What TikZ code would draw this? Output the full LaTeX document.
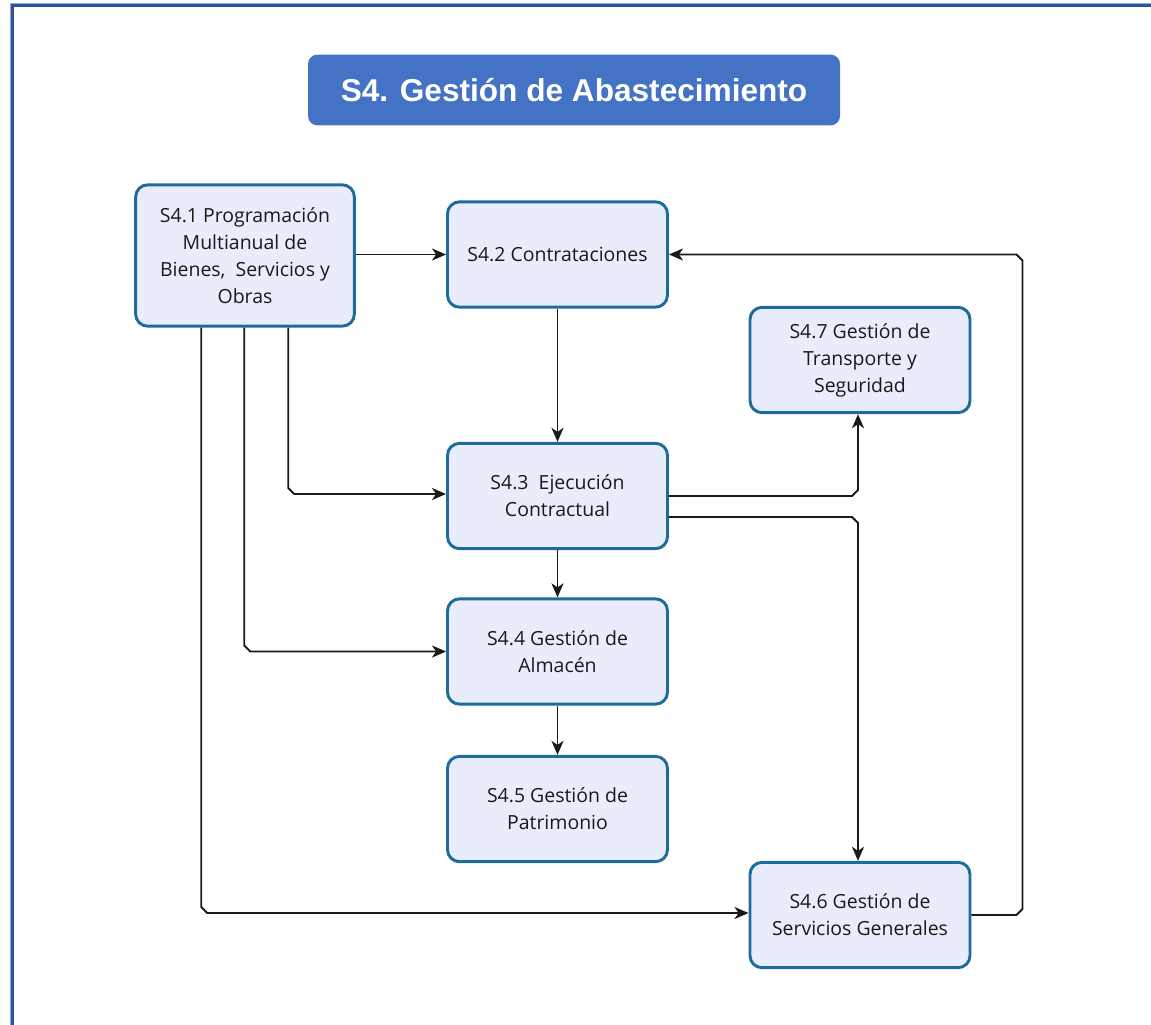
\documentclass[tikz,border=0pt]{standalone}
\usepackage{fontspec}
\setmainfont{Open Sans}
\newfontfamily\titlefont{Liberation Sans}
\usetikzlibrary{calc,arrows.meta}
\definecolor{boxfill}{HTML}{E9EDFB}
\definecolor{boxline}{HTML}{1D6C9B}
\definecolor{titlefill}{HTML}{4472C4}
\definecolor{frameblue}{HTML}{2F5597}
\definecolor{framelight}{HTML}{8FAADC}
\definecolor{linecol}{HTML}{1A1A1A}
\begin{document}
\begin{tikzpicture}[x=0.75pt,y=-0.75pt,
  procbox/.style={draw=boxline,line width=2.2pt,fill=boxfill,rounded corners=9pt,
    minimum width=165pt,minimum height=79pt,align=center,inner sep=2pt,
    font=\fontsize{14.6}{20.3}\selectfont,text=black!90},
  titlebox/.style={fill=titlefill,rounded corners=7pt,minimum width=399pt,minimum height=53pt,
    text=white,font=\titlefont\bfseries\fontsize{23.7}{26}\selectfont},
  arr/.style={draw=linecol,line width=1.4pt,-{Stealth[length=10.5pt,width=9pt,inset=3pt]}}
]
\useasboundingbox (0,0) rectangle (1151,1024);
\clip (0,0) rectangle (1151,1024);
% frame
\draw[framelight,line width=3.6pt] (12,1040) -- (12,5) -- (1170,5);
\draw[frameblue,line width=2pt] (12.5,1040) -- (12.5,5.5) -- (1170,5.5);

\node[titlebox] (title) at (574,90) {S4. Gestión de Abastecimiento};

\node[procbox,minimum width=164pt,minimum height=106pt] (n1) at (245,255.5)
  {S4.1 Programación\\Multianual de\\Bienes,\ \ Servicios y\\Obras};
\node[procbox] (n2) at (557.5,254.5) {S4.2 Contrataciones};
\node[procbox] (n7) at (860,360) {S4.7 Gestión de\\Transporte y\\Seguridad};
\node[procbox] (n3) at (557.5,496) {S4.3\ \ Ejecución\\Contractual};
\node[procbox] (n4) at (557.5,651.5) {S4.4 Gestión de\\Almacén};
\node[procbox] (n5) at (557.5,809) {S4.5 Gestión de\\Patrimonio};
\node[procbox] (n6) at (860,915) {S4.6 Gestión de\\Servicios Generales};

% straight connectors
\draw[arr] (n1.east|-n2.west) -- (n2.west);
\draw[arr] (n2.south) -- (n3.north);
\draw[arr] (n3.south) -- (n4.north);
\draw[arr] (n4.south) -- (n5.north);

% from S4.1 down and right
\coordinate (a1) at ($(n1.south west)+(154,0)$);
\coordinate (a2) at ($(n1.south west)+(110,0)$);
\coordinate (a3) at ($(n1.south west)+(67,0)$);
\coordinate (t3) at ($(n3.west)+(0,-2)$);
\draw[arr] (a1) -- ($(a1|-t3)+(0,-6)$) -- ($(a1|-t3)+(6,0)$) -- (t3);
\draw[arr] (a2) -- ($(a2|-n4.west)+(0,-6)$) -- ($(a2|-n4.west)+(6,0)$) -- (n4.west);
\coordinate (t6) at ($(n6.west)+(0,-2)$);
\draw[arr] (a3) -- ($(a3|-t6)+(0,-6)$) -- ($(a3|-t6)+(6,0)$) -- (t6);

% from S4.3 to S4.7 and S4.6
\coordinate (b1) at (n3.east);
\coordinate (b2) at ($(n3.east)+(0,21)$);
\coordinate (k7) at ($(n7.south)+(-2,0)$);
\coordinate (k6) at ($(n6.north)+(-2,0)$);
\draw[arr] (b1) -- ($(k7|-b1)+(-6,0)$) -- ($(k7|-b1)+(0,-6)$) -- (k7);
\draw[arr] (b2) -- ($(k6|-b2)+(-6,0)$) -- ($(k6|-b2)+(0,6)$) -- (k6);

% from S4.6 back to S4.2
\coordinate (r) at ($(n6.east)+(51,0)$);
\draw[arr] (n6.east) -- ($(r)+(-6,0)$) -- ($(r)+(0,-6)$) -- ($(r|-n2.east)+(0,6)$)
  -- ($(r|-n2.east)+(-6,0)$) -- (n2.east);
\end{tikzpicture}
\end{document}
